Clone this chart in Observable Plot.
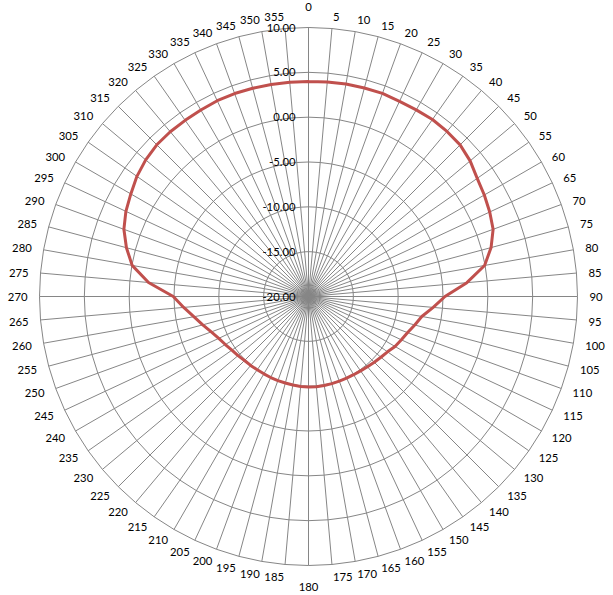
<!DOCTYPE html>
<html>
<head>
<meta charset="utf-8">
<script src="https://cdn.jsdelivr.net/npm/d3@7"></script>
<script src="https://cdn.jsdelivr.net/npm/@observablehq/plot@0.6"></script>
<style>
  html, body { margin: 0; padding: 0; background: #fff; }
  #chart { width: 613px; height: 595px; }
</style>
</head>
<body>
<div id="chart"></div>
<script>
// ---- data ----
const angles = [0,5,10,15,20,25,30,35,40,45,50,55,60,65,70,75,80,85,90,95,100,105,110,115,
  120,125,130,135,140,145,150,155,160,165,170,175,180,185,190,195,200,205,210,215,220,225,
  230,235,240,245,250,255,260,265,270,275,280,285,290,295,300,305,310,315,320,325,330,335,340,345,350,355];
const gain = [3.97,4.01,4.07,4.07,4.10,4.02,4.03,4.10,4.03,3.91,3.53,2.97,2.64,2.30,1.91,1.08,-0.06,-2.27,
  -4.78,-6.04,-7.17,-7.73,-8.23,-8.57,-8.86,-9.24,-9.46,-9.63,-9.77,-9.87,-9.93,-9.95,-9.95,-9.94,-9.92,-9.90,
  -9.90,-9.93,-9.97,-10.01,-10.02,-10.03,-10.04,-10.03,-9.96,-9.91,-9.74,-9.57,-9.29,-8.96,-8.46,-7.79,-7.01,-6.03,
  -4.92,-2.09,-0.03,1.02,1.91,2.47,2.88,3.36,3.70,3.93,3.98,3.98,4.01,4.09,4.09,4.04,4.00,3.98];
const ringValues = [-20, -15, -10, -5, 0, 5, 10];
const ringLabels = ["-20.00", "-15.00", "-10.00", "-5.00", "0.00", "5.00", "10.00"];
const angleLabels = angles.map(String);

// ---- layout ----
const rMin = -20, rMax = 10, span = rMax - rMin;
const W = 613, H = 595;
const RPX = 269;                 // outer ring radius in px
const pxPerUnit = RPX / span;
const labelR = 281 / pxPerUnit;  // angle-label anchor radius
const capR = 290.1 / pxPerUnit;  // 0 / 180 label centre radius
const vOff = 0.9 / pxPerUnit;
const sin = a => Math.sin(a * Math.PI / 180);
const cos = a => Math.cos(a * Math.PI / 180);
const rr = v => v - rMin;

const series = angles.map((a, i) => ({a, v: gain[i]}));
const closed = [...series, series[0]];
const ringPts = ringValues.filter(v => v > rMin)
  .flatMap(v => [...angles, 360].map(a => ({v, a})));

const grid = "#868686";
const font = 11.3;
const idx = a => angles.indexOf(a);

const chart = Plot.plot({
  width: W,
  height: H,
  marginLeft: 39,
  marginRight: W - 39 - 2 * RPX,
  marginTop: 27,
  marginBottom: H - 27 - 2 * RPX,
  x: {domain: [-span, span], axis: null},
  y: {domain: [-span, span], axis: null},
  style: {fontFamily: "Lato, 'Open Sans', sans-serif", background: "#fff", color: "#000"},
  marks: [
    Plot.line(ringPts, {
      x: d => rr(d.v) * sin(d.a), y: d => rr(d.v) * cos(d.a), z: "v",
      stroke: grid, strokeWidth: 1, curve: "linear"
    }),
    Plot.link(angles, {
      x1: 0, y1: 0,
      x2: a => span * sin(a), y2: a => span * cos(a),
      stroke: grid, strokeWidth: 1
    }),
    Plot.line(closed, {
      x: d => rr(d.v) * sin(d.a), y: d => rr(d.v) * cos(d.a),
      stroke: "#C0504D", strokeWidth: 3, strokeLinejoin: "round", curve: "linear"
    }),
    Plot.text(angles, {
      filter: a => a > 0 && a < 180,
      x: a => labelR * sin(a), y: a => labelR * cos(a) - vOff,
      text: a => angleLabels[idx(a)],
      textAnchor: "start", lineAnchor: "middle", fontSize: font, fill: "#000"
    }),
    Plot.text(angles, {
      filter: a => a > 180,
      x: a => labelR * sin(a), y: a => labelR * cos(a) - vOff,
      text: a => angleLabels[idx(a)],
      textAnchor: "end", lineAnchor: "middle", fontSize: font, fill: "#000"
    }),
    Plot.text(angles, {
      filter: a => a === 0 || a === 180,
      x: a => capR * sin(a), y: a => capR * cos(a) - vOff,
      text: a => angleLabels[idx(a)],
      textAnchor: "middle", lineAnchor: "middle", fontSize: font, fill: "#000"
    }),
    Plot.text(ringValues, {
      x: 0, y: v => rr(v),
      text: (v, i) => ringLabels[i],
      textAnchor: "end", lineAnchor: "middle", dx: -13, dy: 0.5,
      fontSize: font, fill: "#000"
    })
  ]
});
document.getElementById("chart").appendChild(chart);
</script>
</body>
</html>
